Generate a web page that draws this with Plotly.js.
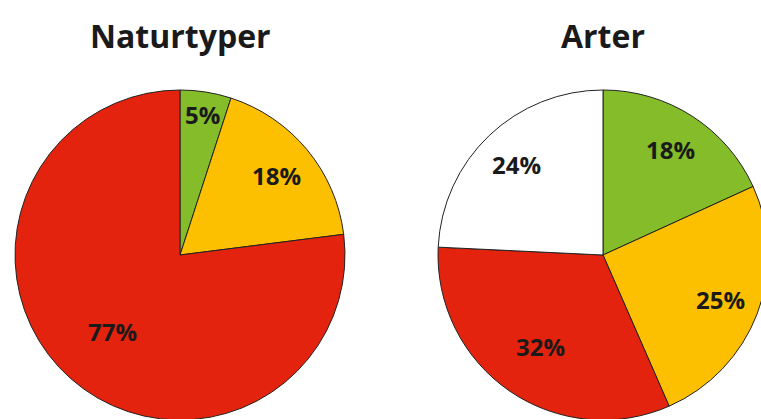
<!DOCTYPE html>
<html>
<head>
<meta charset="utf-8">
<script src="https://cdn.plot.ly/plotly-3.0.1.min.js"></script>
<style>
html, body { margin: 0; padding: 0; overflow: hidden; background: #fff; }
#chart { width: 780px; height: 430px; }
</style>
</head>
<body>
<div id="chart"></div>
<script>
// Data
const titles = ["Naturtyper", "Arter"];
const naturCategories = ["Grønn", "Gul", "Rød"];
const naturValues = [5, 18, 77];
const naturColors = ["#84bc2a", "#fcc000", "#e4230e"];
const arterCategories = ["Grønn", "Gul", "Rød", "Hvit"];
const arterValues = [18, 25, 32, 24];
const arterColors = ["#84bc2a", "#fcc000", "#e4230e", "#ffffff"];

const W = 780, H = 430;
// pie geometry (pixels)
const R = 165;
const centers = [[180, 255], [603, 255]];

function domainFor(c) {
  return {
    x: [(c[0] - R) / W, (c[0] + R) / W],
    y: [(H - c[1] - R) / H, (H - c[1] + R) / H]
  };
}

const common = {
  type: "pie",
  sort: false,
  direction: "clockwise",
  rotation: 0,
  textinfo: "none",
  hoverinfo: "label+percent",
  showlegend: false
};

const traces = [
  Object.assign({}, common, {
    labels: naturCategories,
    values: naturValues,
    marker: { colors: naturColors, line: { color: "#222222", width: 1 } },
    domain: domainFor(centers[0])
  }),
  Object.assign({}, common, {
    labels: arterCategories,
    values: arterValues,
    marker: { colors: arterColors, line: { color: "#222222", width: 1 } },
    domain: domainFor(centers[1])
  })
];

// label radius: narrow slices push labels outward, wide slices pull them in
function radiusFactor(frac) {
  if (frac < 0.1) return 0.86;
  if (frac < 0.3) return 0.76;
  if (frac < 0.5) return 0.67;
  return 0.62;
}

// percentage labels placed at each slice's mid angle
function sliceLabels(values, c) {
  const total = values.reduce((a, b) => a + b, 0);
  let cum = 0;
  return values.map(v => {
    const frac = v / total;
    const mid = (cum + frac / 2) * 2 * Math.PI;
    cum += frac;
    const rf = radiusFactor(frac);
    const px = c[0] + rf * R * Math.sin(mid);
    const py = c[1] - rf * R * Math.cos(mid);
    return {
      text: "<b>" + v + "%</b>",
      x: px / W, y: 1 - py / H, xref: "paper", yref: "paper",
      xanchor: "center", yanchor: "middle", showarrow: false,
      font: { family: "Open Sans", size: 24, color: "#1a1a1a" }
    };
  });
}

const titleAnns = titles.map((t, i) => ({
  text: "<b>" + t + "</b>",
  x: centers[i][0] / W, y: 1 - 35 / H, xref: "paper", yref: "paper",
  xanchor: "center", yanchor: "middle", showarrow: false,
  font: { family: "Open Sans", size: 32, color: "#1a1a1a" }
}));

const layout = {
  width: W,
  height: H,
  margin: { l: 0, r: 0, t: 0, b: 0 },
  paper_bgcolor: "#ffffff",
  annotations: titleAnns
    .concat(sliceLabels(naturValues, centers[0]))
    .concat(sliceLabels(arterValues, centers[1]))
};

Plotly.newPlot("chart", traces, layout, { displayModeBar: false, staticPlot: true });
</script>
</body>
</html>
